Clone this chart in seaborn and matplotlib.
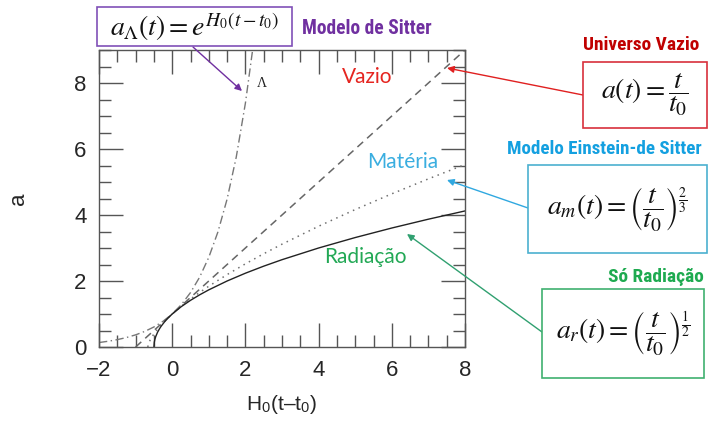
import matplotlib
matplotlib.use("Agg")
import matplotlib.pyplot as plt
from matplotlib.patches import Rectangle
from matplotlib.ticker import MultipleLocator
import seaborn as sns

# Scale factor a versus H0(t - t0) for four cosmological models
lambda_x = [-2.0, -1.75, -1.5, -1.25, -1.0, -0.75, -0.5, -0.25, 0.0, 0.25, 0.5,
            0.75, 1.0, 1.25, 1.5, 1.75, 2.0, 2.2]
lambda_a = [0.135, 0.174, 0.223, 0.287, 0.368, 0.472, 0.607, 0.779, 1.0, 1.284,
            1.649, 2.117, 2.718, 3.490, 4.482, 5.755, 7.389, 9.025]

empty_x = [-1.0, 8.0]
empty_a = [0.0, 9.0]

matter_x = [-0.6667, -0.65, -0.63, -0.6, -0.5, -0.4, -0.3, -0.2, -0.1, 0.0, 0.25,
            0.5, 0.75, 1.0, 1.5, 2.0, 2.5, 3.0, 4.0, 5.0, 6.0, 7.0, 8.0]
matter_a = [0.0, 0.0855, 0.1446, 0.2154, 0.3969, 0.5429, 0.6713, 0.7884, 0.8973,
            1.0, 1.2366, 1.4522, 1.6529, 1.842, 2.194, 2.520, 2.826, 3.116,
            3.659, 4.165, 4.642, 5.095, 5.529]

rad_x = [-0.5, -0.49, -0.475, -0.45, -0.4, -0.35, -0.3, -0.2, -0.1, 0.0, 0.25,
         0.5, 0.75, 1.0, 1.5, 2.0, 2.5, 3.0, 4.0, 5.0, 6.0, 7.0, 8.0]
rad_a = [0.0, 0.1414, 0.2236, 0.3162, 0.4472, 0.5477, 0.6325, 0.7746, 0.8944,
         1.0, 1.2247, 1.4142, 1.5811, 1.7321, 2.0, 2.2361, 2.4495, 2.6458, 3.0,
         3.3166, 3.6056, 3.873, 4.1231]

x_ticks = [-2, 0, 2, 4, 6, 8]
x_tick_labels = ["\u22122", "0", "2", "4", "6", "8"]
y_ticks = [0, 2, 4, 6, 8]

sns.set_style("ticks")
plt.rcParams["font.family"] = ["Liberation Sans", "DejaVu Sans"]
plt.rcParams["mathtext.fontset"] = "stix"

W, H = 713, 421
fig = plt.figure(figsize=(W / 100, H / 100), dpi=100)
ax = fig.add_axes([99 / W, 1 - 347 / H, (465 - 99) / W, (347 - 50) / H])
renderer = fig.canvas.get_renderer()


def fp(x, y):
    """Figure-fraction coordinates from pixel position (origin top-left)."""
    return (x / W, 1 - y / H)


def fitted_text(x, y, s, width_px, max_size, **kw):
    """Place a text and shrink it so its width is at most width_px."""
    t = fig.text(*fp(x, y), s, fontsize=max_size, **kw)
    w = t.get_window_extent(renderer).width
    if w > width_px:
        t.set_fontsize(max_size * width_px / w)
    return t


sns.lineplot(x=lambda_x, y=lambda_a, ax=ax, color="#777777", lw=1.0,
             linestyle=(0, (6, 2.5, 1, 2.5)), sort=False)
sns.lineplot(x=empty_x, y=empty_a, ax=ax, color="#666666", lw=1.1,
             linestyle=(0, (5, 3.5)), sort=False)
sns.lineplot(x=matter_x, y=matter_a, ax=ax, color="#707070", lw=1.1,
             linestyle=(0, (1, 3)), sort=False)
sns.lineplot(x=rad_x, y=rad_a, ax=ax, color="#222222", lw=1.0, sort=False)

ax.set_xlim(-2, 8)
ax.set_ylim(0, 9)
ax.set_xticks(x_ticks)
ax.set_yticks(y_ticks)
ax.xaxis.set_minor_locator(MultipleLocator(0.5))
ax.yaxis.set_minor_locator(MultipleLocator(0.5))
ax.tick_params(which="both", direction="in", top=True, right=True,
               color="#555555", width=1.0)
ax.tick_params(which="major", length=17, labelsize=16, pad=9)
ax.tick_params(which="minor", length=8.5)
ax.set_xticklabels(x_tick_labels)
for s in ax.spines.values():
    s.set_color("#555555")
    s.set_linewidth(1.0)

ax.set_xlabel("H$_\\mathregular{0}$(t\u2013t$_\\mathregular{0}$)", fontsize=15)
ax.set_ylabel("a", fontsize=16)
ax.xaxis.set_label_coords(0.5, -0.155)
ax.yaxis.set_label_coords(-0.19, 0.5)

ax.text(2.45, 7.97, "\u039b", fontsize=10, family="Liberation Serif",
        ha="center", va="center", color="#222222")

# Coloured labels inside the axes
lab_font = ["Lato", "DejaVu Sans"]
fig.text(*fp(367, 77), "Vazio", color="#E52520", fontsize=15,
         ha="center", va="center", family=lab_font)
fig.text(*fp(403, 162), "Matéria", color="#3AAEE0", fontsize=15,
         ha="center", va="center", family=lab_font)
fig.text(*fp(365, 257), "Radiação", color="#22A855", fontsize=15,
         ha="center", va="center", family=lab_font)

# Equation boxes with headings
boxes = [
    ((97, 7, 292, 46), "#8050B8",
     r"$a_\Lambda(t) = e^{H_0(t-t_0)}$", 20),
    ((583, 62, 707, 128), "#D8303C",
     r"$a(t) = \dfrac{t}{t_0}$", 20),
    ((528, 165, 707, 253), "#4BB0D0",
     r"$a_m(t) = \left(\dfrac{t}{t_0}\right)^{\frac{2}{3}}$", 20),
    ((542, 289, 704, 378), "#40B070",
     r"$a_r(t) = \left(\dfrac{t}{t_0}\right)^{\frac{1}{2}}$", 20),
]
for (x0, y0, x1, y1), ec, eq, fs in boxes:
    fig.add_artist(Rectangle(fp(x0, y1), (x1 - x0) / W, (y1 - y0) / H,
                             transform=fig.transFigure, fill=True,
                             facecolor="white", edgecolor=ec, lw=1.2))
    fitted_text((x0 + x1) / 2, (y0 + y1) / 2, eq, (x1 - x0) - 16, fs,
                ha="center", va="center", color="#111111")

heading = dict(weight="bold", ha="center", va="center",
               family=["Roboto Condensed", "Roboto", "DejaVu Sans"])
fitted_text(367, 28, "Modelo de Sitter", 130, 17, color="#7030A0", **heading)
fitted_text(641, 45, "Universo Vazio", 117, 17, color="#C00000", **heading)
fitted_text(604, 149, "Modelo Einstein-de Sitter", 195, 17, color="#14A0E0",
            **heading)
fitted_text(656, 277, "Só Radiação", 96, 17, color="#1EAA50", **heading)

# Arrows from the boxes to the curves
arrows = [
    ((193, 47), (242, 91), "#7030A0"),
    ((583, 95), (447, 68), "#E02020"),
    ((528, 208), (447, 180), "#30A8E0"),
    ((542, 332), (407, 234), "#30A070"),
]
for start, tip, col in arrows:
    ax.annotate("", xy=fp(*tip), xytext=fp(*start), xycoords="figure fraction",
                textcoords="figure fraction", annotation_clip=False,
                arrowprops=dict(arrowstyle="-|>", color=col, lw=1.0,
                                mutation_scale=10, shrinkA=0, shrinkB=0))

fig.savefig("out.png", dpi=100)
